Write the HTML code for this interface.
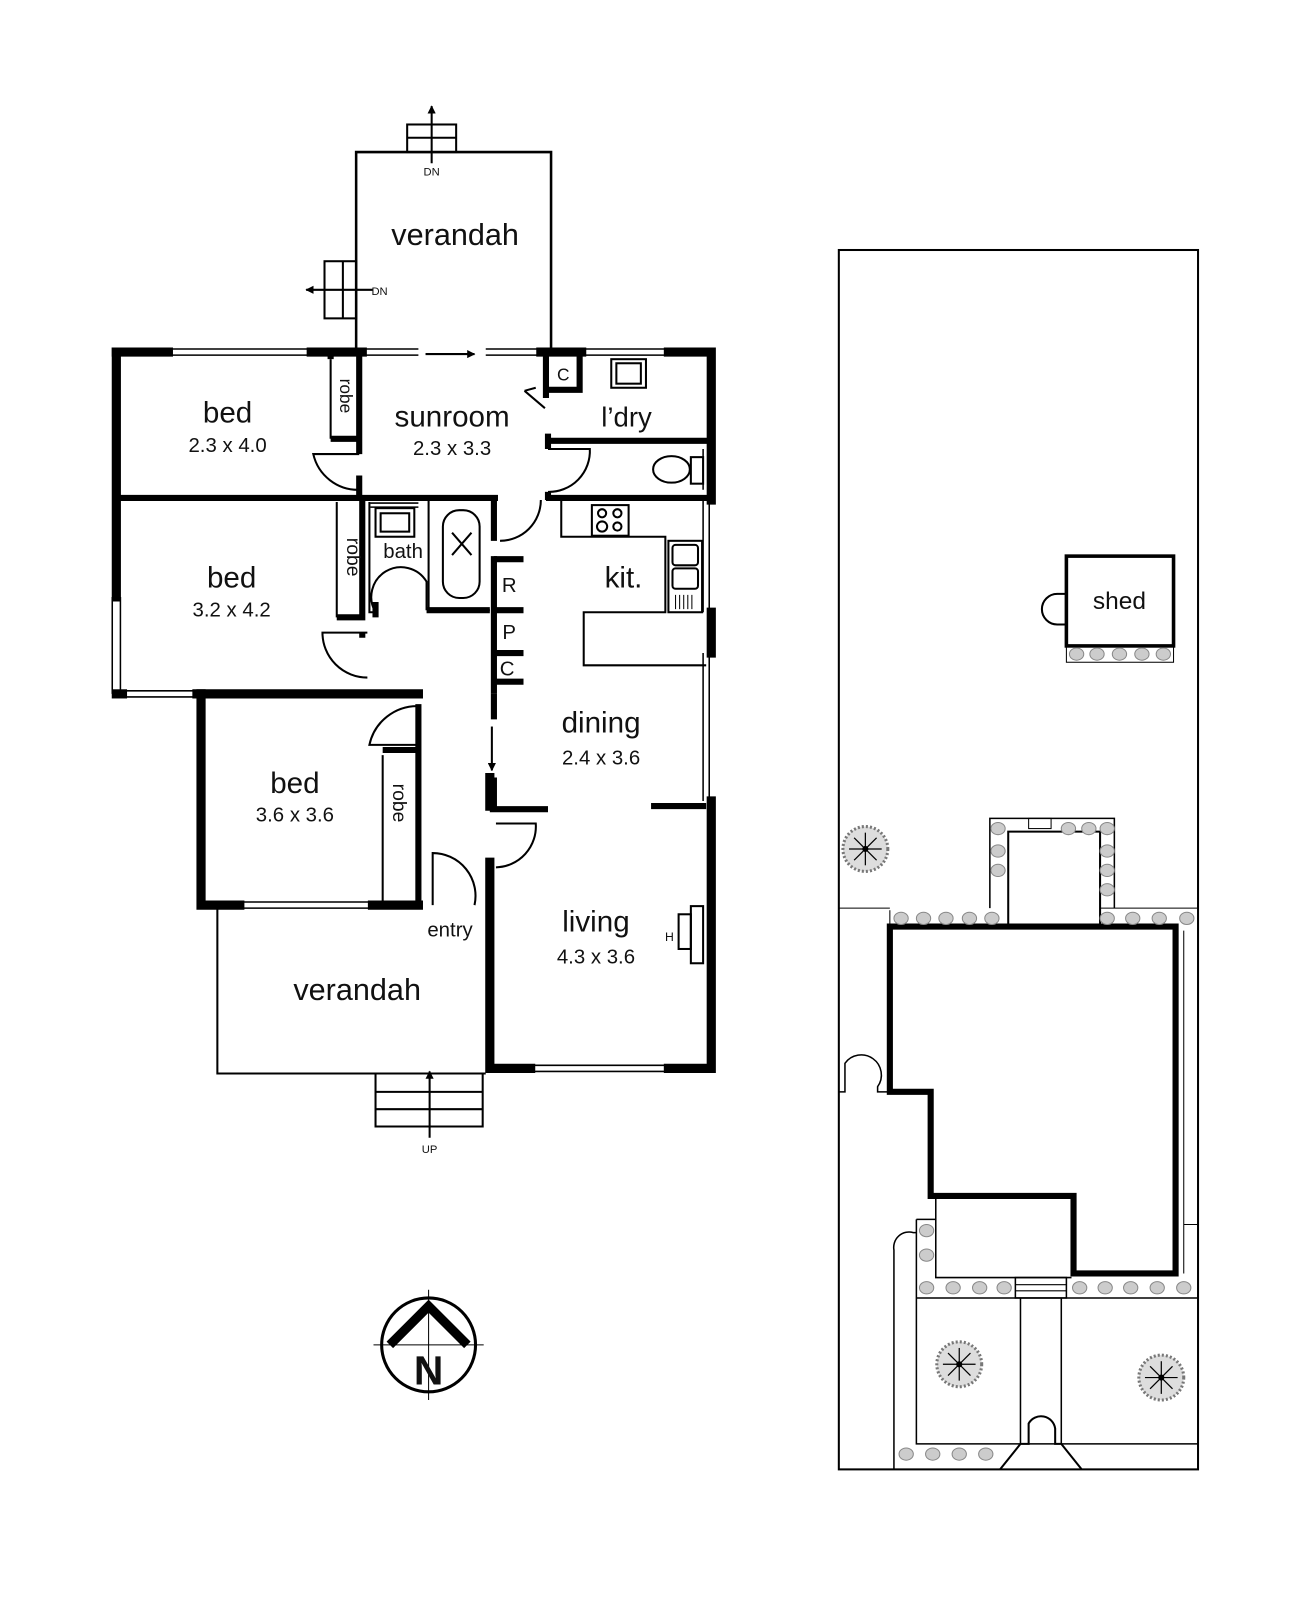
<!DOCTYPE html>
<html><head><meta charset="utf-8"><style>
html,body{margin:0;padding:0;background:#fff}
svg{display:block}
text{font-family:"Liberation Sans",Arial,sans-serif;fill:#111}
</style></head><body>
<svg width="1296" height="1600" viewBox="0 0 1270 1568" preserveAspectRatio="none" xmlns="http://www.w3.org/2000/svg">
<defs>
<marker id="ah" viewBox="0 0 10 10" refX="9" refY="5" markerWidth="4" markerHeight="4" orient="auto"><path d="M0,0 L10,5 L0,10 z" fill="#000"/></marker>
<g id="shrub"><ellipse cx="0" cy="0" rx="7" ry="6" fill="#ccc" stroke="#888" stroke-width="1"/></g>
<g id="tree"><circle r="22" fill="#ddd" stroke="#777" stroke-width="3" stroke-dasharray="2 2"/><g stroke="#000" stroke-width="1.2"><line x1="-16" y1="0" x2="16" y2="0"/><line x1="0" y1="-16" x2="0" y2="16"/><line x1="-11" y1="-11" x2="11" y2="11"/><line x1="-11" y1="11" x2="11" y2="-11"/></g><circle r="3" fill="#000"/></g>
</defs>
<g fill="none" stroke="#000" stroke-width="2">
<path d="M349,345 V149 H540 V345" stroke-width="2.5"/>
<rect x="399" y="122" width="48" height="27"/>
<line x1="399" y1="135" x2="447" y2="135"/>
<line x1="423" y1="160" x2="423" y2="104" marker-end="url(#ah)"/>
<rect x="318" y="256" width="31" height="56"/>
<line x1="336" y1="256" x2="336" y2="312"/>
<line x1="365" y1="284" x2="300" y2="284" marker-end="url(#ah)"/>
<line x1="417" y1="347" x2="465" y2="347" marker-end="url(#ah)"/>
<g stroke-width="1.5">
<path d="M165,342 H305 M165,348 H305 M355,342 H410 M355,348 H410 M476,342 H530 M476,348 H530 M570,342 H655 M570,348 H655"/>
<path d="M110,585 V680 M118,585 V680"/>
<path d="M120,677 H190 M120,683 H190"/>
<path d="M235,884 H365 M235,890 H365"/>
<path d="M520,1044 H655 M520,1050 H655"/>
<path d="M689,490 V600 M695,490 V600 M689,640 V785 M695,640 V785"/>
<path d="M689,440 V480 M695,440 V480"/>
<path d="M363,493 H410 M363,497 H410"/>
</g>
</g>
<g stroke="#000" stroke-width="9" fill="none" stroke-linecap="square">
<path d="M114,345 H165 M305,345 H355 M530,345 H570 M655,345 H697 V490"/>
<path d="M114,345 V585"/>
<path d="M697,600 V640 M697,785 V1047 H655 M520,1047 H480 V845"/>
<path d="M114,680 H120"/>
<path d="M197,680 V887 H235 M365,887 H410"/>
<path d="M193,680 H410"/>
<path d="M480,762 V790"/>
</g>
<g stroke="#000" stroke-width="6" fill="none">
<path d="M114,488 H355 M355,488 H488 M535,488 H697"/>
<path d="M484,488 V530 M484,545 V680"/>
<path d="M484,680 V705 M484,762 V795"/>
<path d="M480,793 H537 M638,790 H692"/>
<path d="M352,345 V430 M324,345 V352 M324,430 H352 M352,430 V445"/>
<path d="M352,466 V488"/>
<path d="M535,345 V382 H568 V345 M535,382 V390"/>
<path d="M537,425 V440 M535,432 H697"/>
<path d="M537,482 V490"/>
<path d="M355,488 V605 H330 M355,625 V620"/>
<path d="M410,887 V735 H375 M410,735 V690"/>
<path d="M368,605 V590 M418,598 H480"/>
<path d="M484,548 H513 M484,598 H513 M484,640 H513 M484,668 H513"/>
</g>
<g stroke="#000" stroke-width="2" fill="none">
<line x1="324" y1="352" x2="324" y2="430"/>
<line x1="330" y1="492" x2="330" y2="605"/>
<line x1="375" y1="740" x2="375" y2="887"/>
<path d="M352,445 H307 A45,45 0 0 0 352,480"/>
<path d="M537,440 H578 A40,40 0 0 1 537,482"/>
<path d="M490,530 A40,40 0 0 0 530,490"/>
<path d="M360,620 H316 A44,44 0 0 0 360,664"/>
<path d="M410,692 A48,48 0 0 0 362,730 H410"/>
<path d="M486,807 H525 A40,40 0 0 1 486,850"/>
<path d="M424,887 V836 A42,42 0 0 1 465,887"/>
<path d="M514,383 L534,400 M514,383 L525,380"/>
<line x1="482" y1="712" x2="482" y2="755" marker-end="url(#ah)"/>
<path d="M362,492 V600 H368 M368,600 A25,25 0 0 1 418,570 V598"/>
<rect x="368" y="498" width="38" height="28"/>
<rect x="373" y="503" width="28" height="18"/>
<path d="M420,490 V598 H480"/>
<rect x="434" y="500" width="36" height="86" rx="16"/>
<path d="M443,522 L462,544 M462,522 L443,544"/>
<rect x="599" y="352" width="34" height="28"/>
<rect x="604" y="356" width="24" height="20"/>
<ellipse cx="658" cy="460" rx="18" ry="13"/>
<rect x="677" y="448" width="12" height="26"/>
<path d="M550,490 V526 H652 V600 H572 V652 H692"/>
<rect x="580" y="495" width="36" height="30"/>
<circle cx="590" cy="503" r="4"/><circle cx="605" cy="503" r="4"/><circle cx="590" cy="516" r="5"/><circle cx="605" cy="516" r="4"/>
<rect x="655" y="530" width="33" height="70"/>
<rect x="659" y="534" width="25" height="20" rx="3"/>
<rect x="659" y="557" width="25" height="20" rx="3"/>
<path d="M662,583 V597 M666,583 V597 M670,583 V597 M674,583 V597 M678,583 V597" stroke-width="1"/>
<rect x="665" y="896" width="12" height="34"/>
<rect x="677" y="888" width="12" height="56"/>
<path d="M213,890 V1052 H476"/>
<path d="M368,1052 V1105 M473,1052 V1105 M368,1070 H473 M368,1087 H473 M368,1104 H473"/>
<line x1="421" y1="1115" x2="421" y2="1050" marker-end="url(#ah)"/>
</g>
<text x="446" y="240" font-size="30" text-anchor="middle">verandah</text>
<text x="423" y="172" font-size="11" text-anchor="middle">DN</text>
<text x="364" y="289" font-size="11">DN</text>
<text x="223" y="414" font-size="29" text-anchor="middle">bed</text>
<text x="223" y="443" font-size="20" text-anchor="middle">2.3 x 4.0</text>
<text x="443" y="418" font-size="29" text-anchor="middle">sunroom</text>
<text x="443" y="446" font-size="20" text-anchor="middle">2.3 x 3.3</text>
<text x="614" y="418" font-size="27" text-anchor="middle">l’dry</text>
<text x="552" y="373" font-size="17" text-anchor="middle">C</text>
<text x="333" y="388" font-size="17" text-anchor="middle" transform="rotate(90 333 388)">robe</text>
<text x="340" y="546" font-size="19" text-anchor="middle" transform="rotate(90 340 546)">robe</text>
<text x="385" y="787" font-size="19" text-anchor="middle" transform="rotate(90 385 787)">robe</text>
<text x="227" y="576" font-size="29" text-anchor="middle">bed</text>
<text x="227" y="604" font-size="20" text-anchor="middle">3.2 x 4.2</text>
<text x="395" y="547" font-size="20" text-anchor="middle">bath</text>
<text x="499" y="580" font-size="20" text-anchor="middle">R</text>
<text x="499" y="626" font-size="20" text-anchor="middle">P</text>
<text x="497" y="662" font-size="20" text-anchor="middle">C</text>
<text x="611" y="576" font-size="29" text-anchor="middle">kit.</text>
<text x="589" y="718" font-size="29" text-anchor="middle">dining</text>
<text x="589" y="749" font-size="20" text-anchor="middle">2.4 x 3.6</text>
<text x="289" y="777" font-size="29" text-anchor="middle">bed</text>
<text x="289" y="805" font-size="20" text-anchor="middle">3.6 x 3.6</text>
<text x="441" y="918" font-size="20" text-anchor="middle">entry</text>
<text x="584" y="913" font-size="29" text-anchor="middle">living</text>
<text x="584" y="944" font-size="20" text-anchor="middle">4.3 x 3.6</text>
<text x="656" y="922" font-size="12" text-anchor="middle">H</text>
<text x="350" y="980" font-size="30" text-anchor="middle">verandah</text>
<text x="421" y="1130" font-size="11" text-anchor="middle">UP</text>
<g fill="none" stroke="#000">
<circle cx="420" cy="1318" r="46" stroke-width="3"/>
<path d="M366,1318 H474 M420,1264 V1372" stroke-width="1"/>
<path d="M382,1318 L420,1280 L458,1318" stroke-width="9"/>
</g>
<text x="420" y="1357" font-size="40" font-weight="bold" text-anchor="middle">N</text>
<g fill="none" stroke="#000" stroke-width="2">
<rect x="822" y="245" width="352" height="1195"/>
<rect x="1045" y="545" width="105" height="88" stroke-width="3.5"/>
<path d="M1045,582 H1036 A15,15 0 0 0 1036,612 H1045" stroke-width="2"/>
<rect x="1045" y="633" width="105" height="16" stroke-width="1"/>
<path d="M822,890 H872 M1078,890 H1174" stroke-width="1"/>
<path d="M970,890 V802 H1092 V890" stroke-width="1.5"/>
<path d="M988,908 V815 H1078 V908" stroke-width="2"/>
<rect x="1008" y="802" width="22" height="10" stroke-width="1"/>
<path d="M872,892 V908" stroke-width="1"/>
<path d="M872,908 H1152 V1248 H1052 V1172 H912 V1070 H872 Z" stroke-width="6"/>
<path d="M822,1070 H828 V1042 A18,18 0 0 1 860,1065 V1070 H872" stroke-width="1.5"/>
<path d="M917,1172 V1252 H1050" stroke-width="1.5"/>
<path d="M1160,912 V1248 M1160,1200 H1174" stroke-width="1"/>
<path d="M898,1195 H917 M898,1195 V1415 H1174 M898,1272 H1174" stroke-width="1.5"/>
<path d="M876,1440 V1225 A15,15 0 0 1 895,1208 H898" stroke-width="1.5"/>
<rect x="995" y="1252" width="50" height="20" stroke-width="1.5"/>
<path d="M995,1259 H1045 M995,1265 H1045" stroke-width="1"/>
<path d="M1000,1272 V1415 M1040,1272 V1415" stroke-width="1.5"/>
<path d="M980,1440 L1000,1415 H1008 V1395 A14,14 0 0 1 1034,1400 V1415 H1040 L1060,1440" stroke-width="2"/>
</g>
<text x="1097" y="597" font-size="24" text-anchor="middle">shed</text>
<g>
<use href="#shrub" x="1055" y="641"/><use href="#shrub" x="1075" y="641"/><use href="#shrub" x="1097" y="641"/><use href="#shrub" x="1119" y="641"/><use href="#shrub" x="1140" y="641"/>
<use href="#shrub" x="978" y="812"/><use href="#shrub" x="1047" y="812"/><use href="#shrub" x="1067" y="812"/><use href="#shrub" x="1085" y="812"/>
<use href="#shrub" x="978" y="834"/><use href="#shrub" x="978" y="853"/><use href="#shrub" x="1085" y="834"/><use href="#shrub" x="1085" y="853"/><use href="#shrub" x="1085" y="872"/>
<use href="#shrub" x="883" y="900"/><use href="#shrub" x="905" y="900"/><use href="#shrub" x="927" y="900"/><use href="#shrub" x="950" y="900"/><use href="#shrub" x="972" y="900"/>
<use href="#shrub" x="1085" y="900"/><use href="#shrub" x="1110" y="900"/><use href="#shrub" x="1136" y="900"/><use href="#shrub" x="1163" y="900"/>
<use href="#shrub" x="908" y="1206"/><use href="#shrub" x="908" y="1230"/>
<use href="#shrub" x="908" y="1262"/><use href="#shrub" x="934" y="1262"/><use href="#shrub" x="960" y="1262"/><use href="#shrub" x="984" y="1262"/>
<use href="#shrub" x="1058" y="1262"/><use href="#shrub" x="1083" y="1262"/><use href="#shrub" x="1108" y="1262"/><use href="#shrub" x="1134" y="1262"/><use href="#shrub" x="1160" y="1262"/>
<use href="#shrub" x="888" y="1425"/><use href="#shrub" x="914" y="1425"/><use href="#shrub" x="940" y="1425"/><use href="#shrub" x="966" y="1425"/>
<use href="#tree" x="848" y="832"/><use href="#tree" x="940" y="1337"/><use href="#tree" x="1138" y="1350"/>
</g>
</svg>
</body></html>
